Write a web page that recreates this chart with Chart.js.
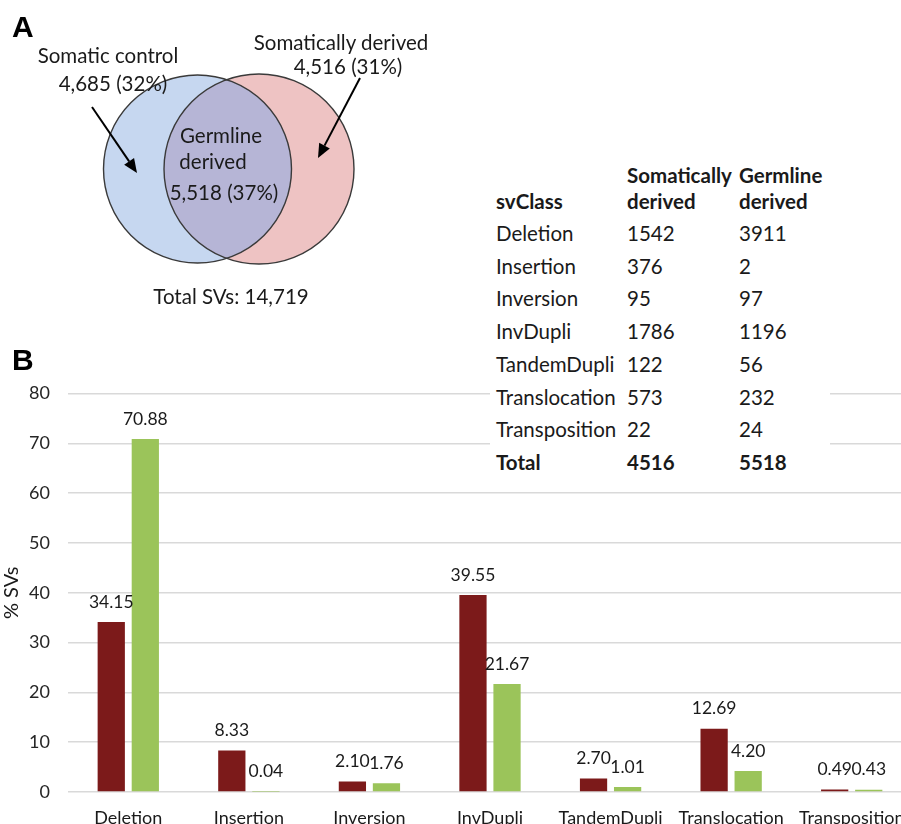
<!DOCTYPE html>
<html>
<head>
<meta charset="utf-8">
<script src="https://cdn.jsdelivr.net/npm/chart.js@4.4.1/dist/chart.umd.min.js"></script>
<style>
  html, body { margin: 0; padding: 0; background: #fff; overflow: hidden; width: 901px; height: 824px; }
  body { position: relative; font-family: Lato, "Noto Sans", sans-serif; color: #1a1a1a; }
  .abs { position: absolute; }
  .panel { font-family: "Liberation Sans", Arial, sans-serif; font-weight: bold; font-size: 30px; color: #000; }
  .venn-text { position: absolute; font-size: 20.5px; text-align: center; white-space: nowrap; transform: translate(-50%, -50%); line-height: 1; }
  #chart-wrap { position: absolute; left: 0; top: 370px; width: 912px; height: 462px; }
  #table-box { position: absolute; left: 490px; top: 150px; width: 340px; height: 330px; background: #fff; }
  #sv-table { position: absolute; left: 6px; top: 11px; border-collapse: collapse; font-size: 20.5px; }
  #sv-table td { padding: 0; height: 32.7px; line-height: 32.7px; white-space: nowrap; vertical-align: middle; }
  #sv-table th { padding: 0 0 3px 0; height: 53px; line-height: 26px; text-align: left; vertical-align: bottom; font-weight: bold; white-space: nowrap; }
  #sv-table tr.total td { font-weight: bold; }
</style>
</head>
<body>
<div id="chart-wrap"><canvas id="svChart"></canvas></div>

<canvas id="venn" class="abs" width="480" height="320" style="left:0;top:0;"></canvas>
<div class="abs panel" style="left:12px;top:10px;">A</div>
<div class="abs panel" style="left:12px;top:343px;">B</div>

<div class="venn-text" style="left:108px;top:55px;">Somatic control</div>
<div class="venn-text" style="left:113px;top:83px;">4,685 (32%)</div>
<div class="venn-text" style="left:341px;top:42px;">Somatically derived</div>
<div class="venn-text" style="left:348px;top:66px;">4,516 (31%)</div>
<div class="venn-text" style="left:221px;top:135px;">Germline</div>
<div class="venn-text" style="left:213px;top:161px;">derived</div>
<div class="venn-text" style="left:224px;top:192px;">5,518 (37%)</div>
<div class="venn-text" style="left:231px;top:296px;">Total SVs: 14,719</div>

<div id="table-box">
  <table id="sv-table">
    <thead>
      <tr>
        <th style="width:131px">svClass</th>
        <th style="width:112px">Somatically<br>derived</th>
        <th>Germline<br>derived</th>
      </tr>
    </thead>
    <tbody id="sv-body"></tbody>
  </table>
</div>

<script>
// bar chart data (% of SVs)
const categories = ['Deletion', 'Insertion', 'Inversion', 'InvDupli', 'TandemDupli', 'Translocation', 'Transposition'];
const somaticPct = [34.15, 8.33, 2.10, 39.55, 2.70, 12.69, 0.49];
const germlinePct = [70.88, 0.04, 1.76, 21.67, 1.01, 4.20, 0.43];
const yMax = 80;
const yStep = 10;

// table counts
const somaticCounts = [1542, 376, 95, 1786, 122, 573, 22];
const germlineCounts = [3911, 2, 97, 1196, 56, 232, 24];
const somaticTotal = 4516;
const germlineTotal = 5518;

const FONT = 'Lato, "Noto Sans", sans-serif';

// fill the table
const tbody = document.getElementById('sv-body');
categories.forEach((c, i) => {
    const tr = document.createElement('tr');
    tr.innerHTML = `<td>${c}</td><td>${somaticCounts[i]}</td><td>${germlineCounts[i]}</td>`;
    tbody.appendChild(tr);
});
const totalRow = document.createElement('tr');
totalRow.className = 'total';
totalRow.innerHTML = `<td>Total</td><td>${somaticTotal}</td><td>${germlineTotal}</td>`;
tbody.appendChild(totalRow);

// venn diagram
function drawVenn() {
    const ctx = document.getElementById('venn').getContext('2d');
    const blue = { x: 197.5, y: 169, r: 94 };
    const red = { x: 259, y: 169, r: 95 };
    const circle = c => { ctx.beginPath(); ctx.arc(c.x, c.y, c.r, 0, Math.PI * 2); };

    circle(blue); ctx.fillStyle = '#c6d7f0'; ctx.fill();
    circle(red); ctx.fillStyle = '#eec3c3'; ctx.fill();
    ctx.save();
    circle(blue); ctx.clip();
    circle(red); ctx.fillStyle = '#b6b5d6'; ctx.fill();
    ctx.restore();

    ctx.lineWidth = 1.4;
    ctx.strokeStyle = '#3a3a3a';
    circle(red); ctx.stroke();
    circle(blue); ctx.stroke();

    arrow(ctx, 92, 107, 137, 173);
    arrow(ctx, 360, 78, 318, 158);
}

function arrow(ctx, x1, y1, x2, y2) {
    const ang = Math.atan2(y2 - y1, x2 - x1);
    const len = 14, half = 6;
    const bx = x2 - len * Math.cos(ang), by = y2 - len * Math.sin(ang);
    ctx.strokeStyle = '#000';
    ctx.lineWidth = 2;
    ctx.beginPath();
    ctx.moveTo(x1, y1);
    ctx.lineTo(bx, by);
    ctx.stroke();
    ctx.fillStyle = '#000';
    ctx.beginPath();
    ctx.moveTo(x2, y2);
    ctx.lineTo(bx + half * Math.sin(ang), by - half * Math.cos(ang));
    ctx.lineTo(bx - half * Math.sin(ang), by + half * Math.cos(ang));
    ctx.closePath();
    ctx.fill();
}

drawVenn();

// value labels above each bar
const barLabels = {
    id: 'barLabels',
    afterDatasetsDraw(chart) {
        const ctx = chart.ctx;
        ctx.save();
        ctx.font = `17.5px ${FONT}`;
        ctx.fillStyle = '#1a1a1a';
        ctx.textAlign = 'center';
        ctx.textBaseline = 'middle';
        chart.data.datasets.forEach((ds, di) => {
            chart.getDatasetMeta(di).data.forEach((bar, i) => {
                ctx.fillText(ds.data[i].toFixed(2), bar.x, bar.y - 20);
            });
        });
        ctx.restore();
    }
};

new Chart(document.getElementById('svChart'), {
    type: 'bar',
    data: {
        labels: categories,
        datasets: [
            { label: 'Somatically derived', data: somaticPct, backgroundColor: '#7c1a1a', borderWidth: 0 },
            { label: 'Germline derived', data: germlinePct, backgroundColor: '#9bc45a', borderWidth: 0 }
        ]
    },
    options: {
        responsive: true,
        maintainAspectRatio: false,
        animation: false,
        layout: { padding: { top: 23.5, right: 0, bottom: 0, left: 0 } },
        datasets: { bar: { categoryPercentage: 0.565, barPercentage: 0.8 } },
        scales: {
            y: {
                min: 0,
                max: yMax,
                ticks: { stepSize: yStep, padding: 18, color: '#262626', font: { family: FONT, size: 18 } },
                grid: { color: '#d9d9d9', lineWidth: 1.5, drawTicks: false },
                border: { display: false },
                title: { display: true, text: '% SVs', color: '#1a1a1a', font: { family: FONT, size: 20 }, padding: 0 },
                afterFit(scale) {
                    scale.width = 68;
                    scale.paddingTop = 0;
                    scale.paddingBottom = 0;
                }
            },
            x: {
                ticks: { padding: 15, color: '#1a1a1a', maxRotation: 0, autoSkip: false, font: { family: FONT, size: 18 } },
                grid: { display: false, drawTicks: false },
                border: { display: false },
                afterFit(scale) {
                    scale.height = 40;
                    scale.paddingLeft = 0;
                    scale.paddingRight = 0;
                }
            }
        },
        plugins: {
            legend: { display: false },
            tooltip: { enabled: false }
        }
    },
    plugins: [barLabels]
});
</script>
</body>
</html>
